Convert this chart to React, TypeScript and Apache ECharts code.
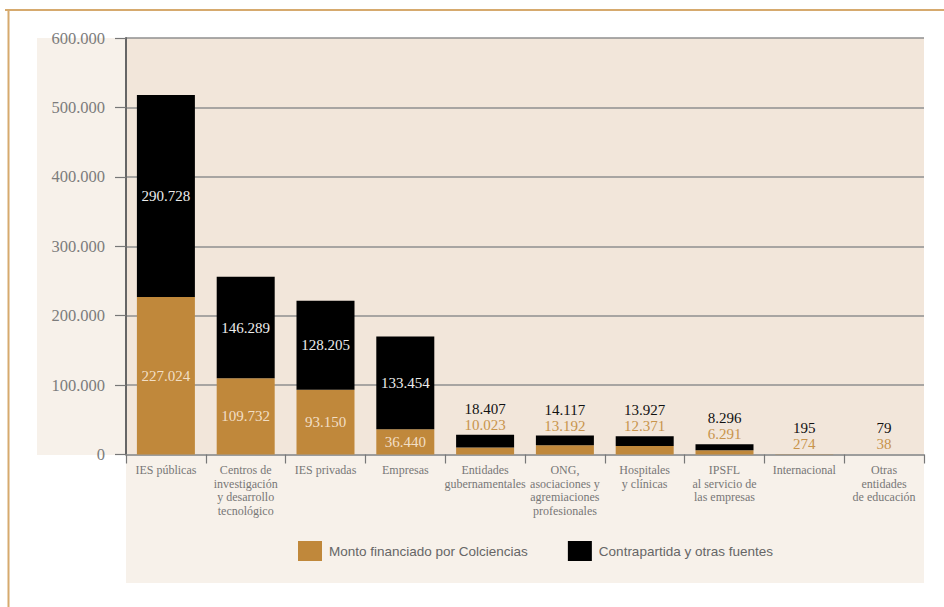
import React, { useEffect, useRef } from "react";
import * as echarts from "echarts";

const categories = [
  "IES públicas",
  "Centros de\ninvestigación\ny desarrollo\ntecnológico",
  "IES privadas",
  "Empresas",
  "Entidades\ngubernamentales",
  "ONG,\nasociaciones y\nagremiaciones\nprofesionales",
  "Hospitales\ny clínicas",
  "IPSFL\nal servicio de\nlas empresas",
  "Internacional",
  "Otras\nentidades\nde educación",
];
const colciencias = [227024, 109732, 93150, 36440, 10023, 13192, 12371, 6291, 274, 38];
const contrapartida = [290728, 146289, 128205, 133454, 18407, 14117, 13927, 8296, 195, 79];
const seriesNames = ["Monto financiado por Colciencias", "Contrapartida y otras fuentes"];
const yTicks = [0, 100000, 200000, 300000, 400000, 500000, 600000];
const insideCount = 4;

const fmt = (n: number) => String(Math.round(n)).replace(/\B(?=(\d{3})+(?!\d))/g, ".");

const SERIF = "'Liberation Serif', 'DejaVu Serif', serif";
const SANS = "'Liberation Sans', 'Noto Sans', sans-serif";
const ORANGE = "#C0883B";

export default function App() {
  const ref = useRef<HTMLDivElement>(null);
  useEffect(() => {
    if (!ref.current) return;
    const chart = echarts.init(ref.current, undefined, { renderer: "svg" });
    const orangeData = colciencias.map((v, i) => ({
      value: v,
      label: {
        show: i < insideCount,
        position: "inside",
        color: "#F2DFC6",
        fontFamily: SERIF,
        fontSize: 15,
        formatter: () => fmt(v),
      },
    }));
    const blackData = contrapartida.map((v, i) => ({
      value: v,
      label:
        i < insideCount
          ? {
              show: true,
              position: "inside",
              color: "#ECECEC",
              fontFamily: SERIF,
              fontSize: 15,
              formatter: () => fmt(v),
            }
          : {
              show: true,
              position: "top",
              distance: 2,
              formatter: () => `{k|${fmt(v)}}\n{o|${fmt(colciencias[i])}}`,
              rich: {
                k: { color: "#111", fontFamily: SERIF, fontSize: 15, lineHeight: 16 },
                o: { color: "#C8944C", fontFamily: SERIF, fontSize: 15, lineHeight: 16 },
              },
            },
    }));
    chart.setOption({
      animation: false,
      backgroundColor: "#FFFFFF",
      graphic: [
        { type: "rect", shape: { x: 37, y: 38, width: 89, height: 417 }, style: { fill: "#F7F1EA" }, z: -10 },
        { type: "rect", shape: { x: 126, y: 455, width: 798, height: 128 }, style: { fill: "#F7F1EA" }, z: -10 },
        { type: "line", shape: { x1: 5, y1: 10, x2: 944, y2: 10 }, style: { stroke: "#D6AA6E", lineWidth: 2 } },
        { type: "line", shape: { x1: 8.5, y1: 10, x2: 8.5, y2: 607 }, style: { stroke: "#D6AA6E", lineWidth: 2 } },
      ],
      grid: {
        left: 126,
        right: 20,
        top: 38,
        bottom: 152.5,
        show: true,
        backgroundColor: "#F2E6DA",
        borderWidth: 0,
      },
      legend: {
        left: 298,
        top: 541,
        padding: 0,
        itemWidth: 24,
        itemHeight: 20,
        itemGap: 40,
        icon: "rect",
        data: seriesNames,
        textStyle: { color: "#666", fontFamily: SANS, fontSize: 13.5, padding: [0, 0, 0, 2] },
      },
      xAxis: {
        type: "category",
        data: categories,
        axisLine: { lineStyle: { color: "#999", width: 1.5 } },
        axisTick: { show: true, length: 9, lineStyle: { color: "#777", width: 1.2 } },
        axisLabel: {
          interval: 0,
          color: "#777",
          fontFamily: SERIF,
          fontSize: 12,
          lineHeight: 13.5,
          margin: 9,
        },
      },
      yAxis: {
        type: "value",
        min: 0,
        max: yTicks[yTicks.length - 1],
        interval: yTicks[1] - yTicks[0],
        axisLine: { show: true, lineStyle: { color: "#666", width: 2 } },
        axisTick: { show: true, length: 11, lineStyle: { color: "#777", width: 1.2 } },
        axisLabel: {
          color: "#7c7c7c",
          fontFamily: SERIF,
          fontSize: 16.5,
          margin: 21,
          formatter: (v: number) => fmt(v),
        },
        splitLine: { show: true, lineStyle: { color: "#8f8f8f", width: 1.5 } },
      },
      series: [
        {
          name: seriesNames[0],
          type: "bar",
          stack: "total",
          barWidth: 58,
          itemStyle: { color: ORANGE },
          data: orangeData,
        },
        {
          name: seriesNames[1],
          type: "bar",
          stack: "total",
          barWidth: 58,
          itemStyle: { color: "#000000" },
          data: blackData,
        },
      ],
    });
    return () => chart.dispose();
  }, []);
  return (
    <div
      ref={ref}
      style={{ position: "absolute", left: 0, top: 0, width: 944, height: 607 }}
    />
  );
}
